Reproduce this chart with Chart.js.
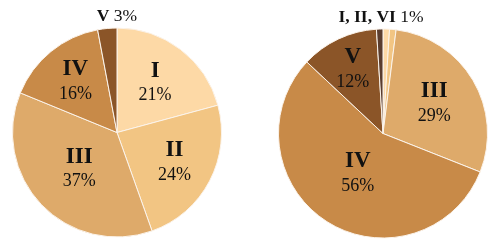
<!DOCTYPE html>
<html>
<head>
<meta charset="utf-8">
<script src="https://cdn.jsdelivr.net/npm/chart.js@4.4.0/dist/chart.umd.min.js"></script>
<style>
    html, body { margin: 0; padding: 0; background: #ffffff; }
    .wrap { display: flex; width: 500px; height: 241px; }
    .cell { position: relative; width: 250px; height: 241px; }
</style>
</head>
<body>
<div class="wrap">
    <div class="cell"><canvas id="left"></canvas></div>
    <div class="cell"><canvas id="right"></canvas></div>
</div>
<script>
// Data
const leftLabels = ["I", "II", "III", "IV", "V"];
const leftValues = [21, 24, 37, 16, 3];
const leftOutside = ["V"];

const rightLabels = ["I", "II", "III", "IV", "V", "VI"];
const rightValues = [1, 1, 29, 56, 12, 1];
const rightOutside = ["I", "II", "VI"];

// Colours
const leftColors = ["#fdd9a6", "#f2c583", "#deaa6a", "#c88a48", "#8b5528"];
const rightColors = ["#fdd9a6", "#f2c583", "#deaa6a", "#c88a48", "#8b5528", "#5b3d2e"];

const serif = "'Liberation Serif', 'Times New Roman', serif";

// Plugin: labels inside slices, small ones grouped above the pie
const sliceLabels = {
    id: "sliceLabels",
    afterDatasetsDraw(chart, args, opts) {
        const ctx = chart.ctx;
        const meta = chart.getDatasetMeta(0);
        const labels = chart.data.labels;
        const values = chart.data.datasets[0].data;
        const outside = opts.outside || [];
        ctx.save();
        ctx.fillStyle = "#111111";
        ctx.textAlign = "center";
        ctx.textBaseline = "middle";
        meta.data.forEach((arc, i) => {
            if (outside.includes(labels[i])) return;
            const p = arc.getProps(["x", "y", "startAngle", "endAngle", "outerRadius"], true);
            const mid = (p.startAngle + p.endAngle) / 2;
            const r = p.outerRadius * (opts.radius[i] || 0.6);
            const x = p.x + Math.cos(mid) * r;
            const y = p.y + Math.sin(mid) * r;
            ctx.font = "bold 23px " + serif;
            ctx.fillText(labels[i], x, y - 12);
            ctx.font = "18px " + serif;
            ctx.fillText(values[i] + "%", x, y + 13);
        });
        if (outside.length) {
            const first = meta.data[0].getProps(["x", "y", "outerRadius"], true);
            const idx = labels.indexOf(outside[0]);
            const name = outside.join(", ") + " ";
            const pct = values[idx] + "%";
            ctx.font = "bold 17.5px " + serif;
            const w1 = ctx.measureText(name).width;
            ctx.font = "17.5px " + serif;
            const w2 = ctx.measureText(pct).width;
            let x = first.x + opts.outsideShift - (w1 + w2) / 2;
            const y = first.y - first.outerRadius - 12;
            ctx.textAlign = "left";
            ctx.font = "bold 17.5px " + serif;
            ctx.fillText(name, x, y);
            ctx.font = "17.5px " + serif;
            ctx.fillText(pct, x + w1, y);
        }
        ctx.restore();
    }
};

const makePie = (id, labels, values, colors, outside, radius, padding, outsideShift) => {
    new Chart(document.getElementById(id), {
        type: "pie",
        data: {
            labels: labels,
            datasets: [{
                data: values,
                backgroundColor: colors,
                borderColor: "#fbf3ea",
                borderWidth: 1
            }]
        },
        options: {
            responsive: false,
            animation: false,
            layout: { padding: padding },
            plugins: {
                legend: { display: false },
                tooltip: { enabled: false },
                sliceLabels: { outside: outside, radius: radius, outsideShift: outsideShift }
            }
        },
        plugins: [sliceLabels]
    });
};

const setSize = (id) => {
    const c = document.getElementById(id);
    c.width = 250;
    c.height = 241;
    c.style.width = "250px";
    c.style.height = "241px";
};
setSize("left");
setSize("right");

makePie("left", leftLabels, leftValues, leftColors, leftOutside,
    [0.6, 0.62, 0.5, 0.63, 0.6],
    { left: 12, right: 28, top: 27, bottom: 3 }, 0);
makePie("right", rightLabels, rightValues, rightColors, rightOutside,
    [0.6, 0.6, 0.57, 0.45, 0.68, 0.6],
    { left: 28, right: 12, top: 28, bottom: 2 }, -2);
</script>
</body>
</html>
